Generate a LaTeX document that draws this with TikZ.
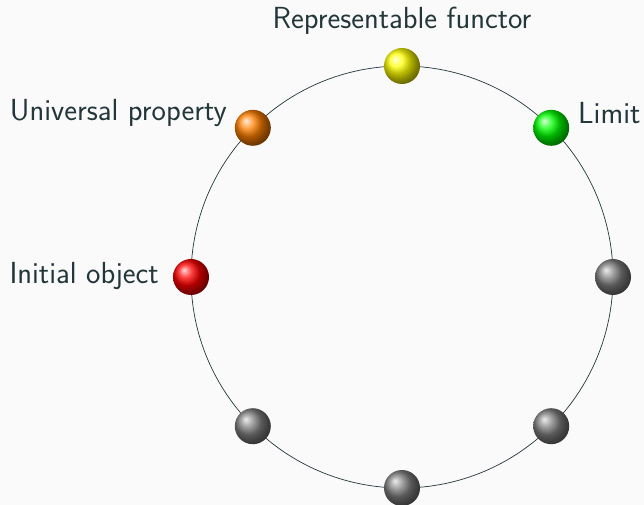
\documentclass[tikz,border=0pt]{standalone}
\usepackage{fontspec}
\usetikzlibrary{calc}
\begin{document}
\begin{tikzpicture}[x=1pt,y=1pt,
  ballnode/.style={circle,minimum size=36pt,inner sep=0pt,shading=ball},
  lbl/.style={font=\sffamily\fontsize{30.5}{36}\selectfont,text=slate,inner sep=0pt}]
  \definecolor{slate}{HTML}{23373B}
  \definecolor{bgc}{HTML}{FAFAFA}
  \fill[bgc] (0,0) rectangle (644,505);
  \useasboundingbox (0,0) rectangle (644,505);
  \coordinate (c) at (402,228);
  \draw[slate,line width=0.7pt] (c) circle[radius=211];
  % balls around the circle
  \node[ballnode,ball color=yellow] (top) at ($(c)+(90:211)$) {};
  \node[ballnode,ball color=green] (lim) at ($(c)+(45:211)$) {};
  \node[ballnode,ball color=gray] (e) at ($(c)+(0:211)$) {};
  \node[ballnode,ball color=gray] (se) at ($(c)+(-45:211)$) {};
  \node[ballnode,ball color=gray] (s) at ($(c)+(-90:211)$) {};
  \node[ballnode,ball color=gray] (sw) at ($(c)+(-135:211)$) {};
  \node[ballnode,ball color=red] (ini) at ($(c)+(180:211)$) {};
  \node[ballnode,ball color=orange] (uni) at ($(c)+(135:211)$) {};
  % labels
  \node[lbl,anchor=base] (ltop) at (402,476) {Representable functor};
  \node[lbl,anchor=base west] (llim) at (578,381) {Limit};
  \node[lbl,anchor=base east] (luni) at (227,384) {Universal property};
  \node[lbl,anchor=base east] (lini) at (159,221) {Initial object};
\end{tikzpicture}
\end{document}
